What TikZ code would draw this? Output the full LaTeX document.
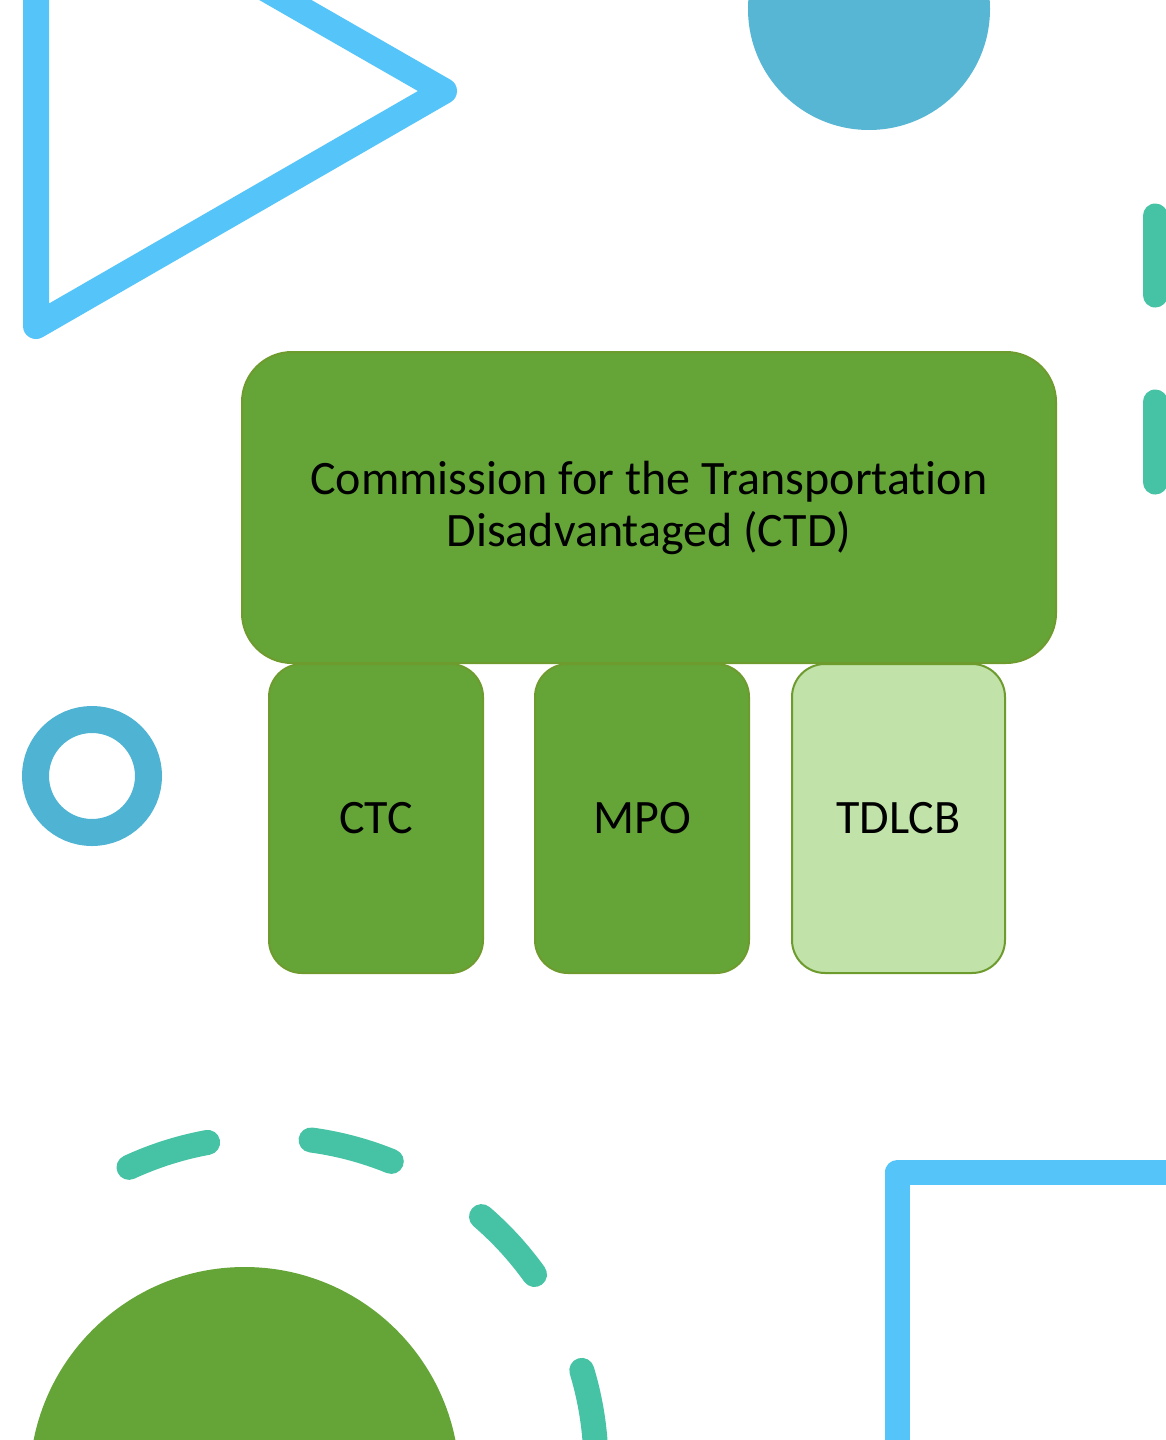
\documentclass[tikz,border=0pt]{standalone}
\usepackage{fontspec}
\setmainfont{Carlito}[Ligatures=NoCommon]
\definecolor{gfill}{HTML}{65A538}
\definecolor{gline}{HTML}{6E9B2E}
\definecolor{lfill}{HTML}{C1E2A8}
\definecolor{skyb}{HTML}{54C4F9}
\definecolor{circb}{HTML}{58B6D5}
\definecolor{ringb}{HTML}{4FB3D4}
\definecolor{tealg}{HTML}{46C2A5}
\tikzset{
  bigbox/.style={draw=gline, line width=2pt, fill=gfill, rounded corners=50pt,
    minimum width=814pt, minimum height=311pt, align=center, inner sep=0pt,
    font=\fontsize{48}{52}\selectfont},
  smallbox/.style={draw=gline, line width=2pt, fill=gfill, rounded corners=33pt,
    minimum width=214pt, minimum height=309pt, inner sep=0pt,
    font=\fontsize{48}{52}\selectfont},
  skyline/.style={draw=skyb, line width=26pt, line join=round, line cap=round},
  tealdash/.style={draw=tealg, line width=25pt, line cap=round}
}
\begin{document}
\begin{tikzpicture}[x=1pt,y=-1pt]
\path[use as bounding box, fill=white] (0,0) rectangle (1166,1440);
\begin{scope}
\clip (0,0) rectangle (1166,1440);
% decorations
\draw[skyline] (36,-143) -- (444,91) -- (36,326) -- cycle;
\fill[circb] (869,9) circle (121pt);
\draw[ringb, line width=27pt] (92,776) circle (56.5pt);
\draw[tealdash] (1155,216) -- (1155,295);
\draw[tealdash] (1155,402) -- (1155,482);
\draw[skyline, line cap=butt, line width=25pt] (1250,1172) -- (897.5,1172) -- (897.5,1500);
\fill[gfill] (244.5,1482) circle (215pt);
\draw[tealdash] plot[domain=-114.8:-100.4, samples=20] ({267+329*cos(\x)},{1466+329*sin(\x)});
\draw[tealdash] plot[domain=-82.3:-67.8, samples=20] ({267+329*cos(\x)},{1466+329*sin(\x)});
\draw[tealdash] plot[domain=-49.3:-35.6, samples=20] ({267+329*cos(\x)},{1466+329*sin(\x)});
\draw[tealdash] plot[domain=-16.9:-2.7, samples=20] ({267+329*cos(\x)},{1466+329*sin(\x)});
% diagram
\node[bigbox] (ctd) at (649,507.5) {Commission for the Transportation\\Disadvantaged (CTD)};
\node[smallbox] (ctc) at (376,818.5) {CTC};
\node[smallbox] (mpo) at (642,818.5) {MPO};
\node[smallbox, fill=lfill, minimum width=213pt] (tdlcb) at (898.5,818.5) {TDLCB};
\end{scope}
\end{tikzpicture}
\end{document}
